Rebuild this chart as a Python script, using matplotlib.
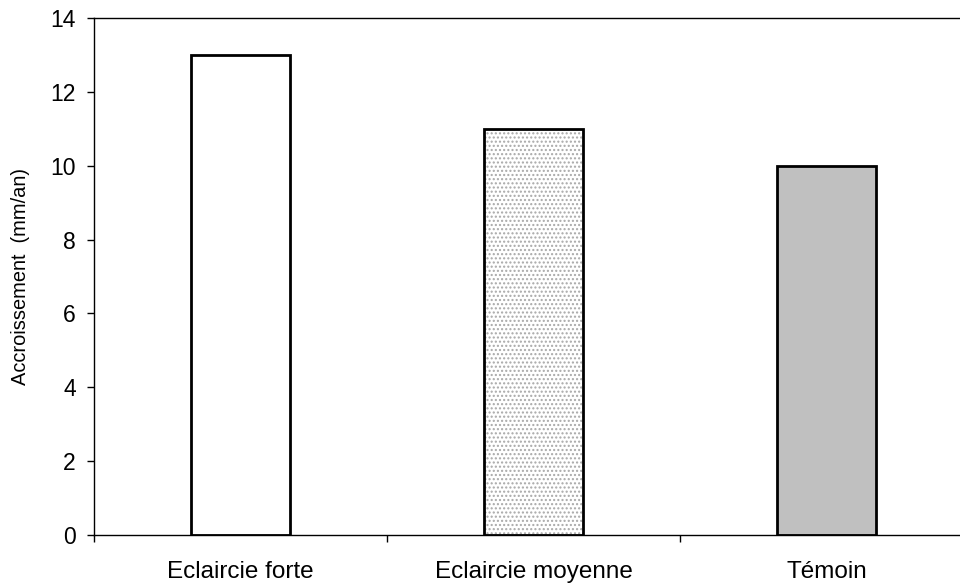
import matplotlib
matplotlib.use("Agg")
import matplotlib.pyplot as plt
import numpy as np

plt.rcParams['font.family'] = ['Liberation Sans', 'DejaVu Sans']

categories = ["Eclaircie forte", "Eclaircie moyenne", "Témoin"]
values = [13, 11, 10]
face_colors = ["white", "white", "#C0C0C0"]
hatches = [None, "....", None]

fig = plt.figure(figsize=(9.6, 5.85), dpi=100)
ax = fig.add_axes([94/960, 1-535/585, (973-94)/960, (535-18)/585])

x = np.arange(len(categories))
w = 0.335
for xi, v, fc, h in zip(x, values, face_colors, hatches):
    if h:
        ax.bar(xi, v, width=w, color="white", edgecolor="#A8A8A8", hatch=h, linewidth=0, zorder=2)
    else:
        ax.bar(xi, v, width=w, color=fc, linewidth=0, zorder=2)
    ax.bar(xi, v, width=w, fill=False, edgecolor="black", linewidth=2, zorder=3)

ax.set_xlim(-0.5, 2.5)
ax.set_ylim(0, 14)
ax.set_yticks(range(0, 15, 2))
ax.set_xticks([-0.5, 0.5, 1.5, 2.5])
ax.set_xticklabels([])
ax.set_xticks(x, minor=True)
ax.set_xticklabels(categories, minor=True, fontsize=17.5)
ax.tick_params(axis='x', which='minor', length=0, pad=18.5)
ax.tick_params(axis='x', which='major', direction='out', length=5, width=1)
ax.tick_params(axis='y', direction='out', length=5, width=1, labelsize=16.5, pad=8)
ax.spines['right'].set_visible(False)
for s in ['left', 'bottom', 'top']:
    ax.spines[s].set_linewidth(1)
ax.set_ylabel("Accroissement  (mm/an)", fontsize=14.4, labelpad=15)

fig.savefig("out.png", dpi=100)
